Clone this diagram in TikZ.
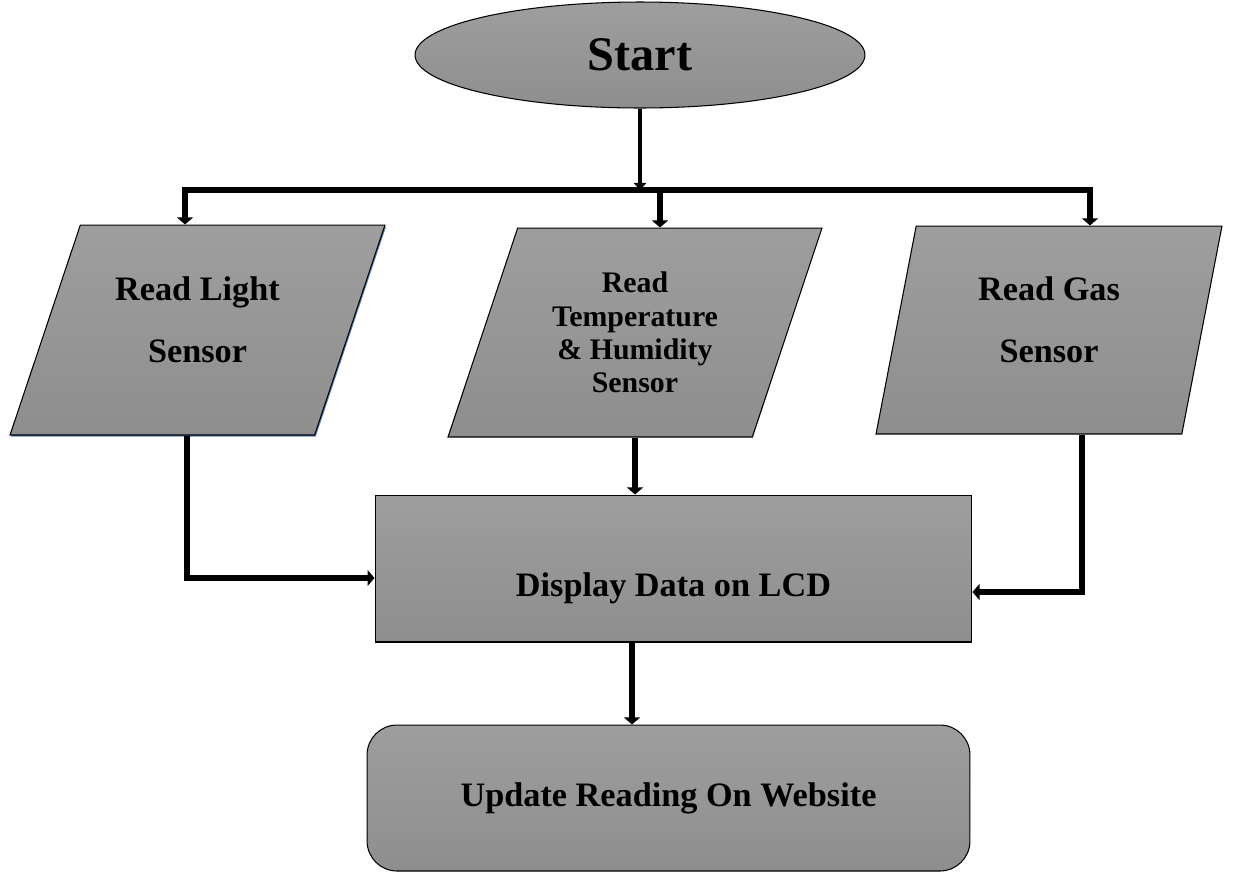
\documentclass[tikz,border=0pt]{standalone}
\usepackage{fontspec}
\setmainfont{Liberation Serif}
\usetikzlibrary{positioning}
\usetikzlibrary{shapes.geometric,shadows,arrows.meta}

\definecolor{boxtop}{RGB}{158,158,158}
\definecolor{boxbot}{RGB}{142,142,142}
\definecolor{shadeblue}{RGB}{90,130,190}

\tikzset{
  box/.style={draw=black, line width=0.6pt, top color=boxtop, bottom color=boxbot,
    font=\bfseries\fontsize{19.5}{35}\selectfont, align=center, inner sep=2pt},
  io/.style={box, trapezium, trapezium stretches body=true},
  flow/.style={line width=3.4pt, -{Triangle[length=4pt,width=9pt]}},
  thin flow/.style={line width=1.8pt, -{Triangle[length=4pt,width=7pt]}},
  bus/.style={line width=3.4pt, line cap=rect}
}

\begin{document}
\begin{tikzpicture}[x=0.02cm, y=-0.02cm]
\useasboundingbox (0,0) rectangle (1240,873);

% start
\node[box, ellipse, minimum width=9cm, minimum height=2.12cm,
      font=\bfseries\fontsize{27.5}{33}\selectfont] (start) at (640,55) {Start};

% sensors
\node[io, trapezium left angle=58.2, trapezium right angle=121.8,
      minimum width=7.5cm, minimum height=4.2cm, text depth=12pt,
      drop shadow={shadow xshift=0.6pt, shadow yshift=-1pt, fill=shadeblue, opacity=1}]
      (light) at (197.5,330) {Read Light\\Sensor};
\node[io, trapezium left angle=61.5, trapezium right angle=118.5,
      minimum width=7.48cm, minimum height=4.18cm,
      font=\bfseries\fontsize{17}{19}\selectfont]
      (temp) at (635,332.5) {Read\\Temperature\\\& Humidity\\Sensor};
\node[io, trapezium left angle=70.5, trapezium right angle=109.5,
      minimum width=6.92cm, minimum height=4.16cm, text depth=12pt]
      (gas) at (1049,330) {Read Gas\\Sensor};

% outputs
\node[box, rectangle, minimum width=11.94cm, minimum height=2.94cm,
      text height=32pt, text depth=0pt] (lcd) at (673.5,568.5) {Display Data on LCD};
\node[box, rectangle, rounded corners=0.6cm, minimum width=12.06cm, minimum height=2.92cm]
      (web) at (668.5,798) {Update Reading On Website};

% branches
\coordinate (barL) at (185,190);
\coordinate (barM) at (660,190);
\coordinate (barR) at (1090,190);
\draw[thin flow] (start.south) -- (start.south |- barM);
\draw[bus] (barL) -- (barR);
\draw[flow] (barL) -- (barL |- light.north);
\draw[flow] (barM) -- (barM |- temp.north);
\draw[flow] (barR) -- (barR |- gas.north);

% merge
\draw[flow] ([xshift=-0.22cm]light.south) |- ([yshift=-0.19cm]lcd.west);
\draw[flow] (temp.south) -- (temp.south |- lcd.north);
\draw[flow] ([xshift=0.66cm]gas.south) |- ([yshift=-0.47cm]lcd.east);
\draw[flow] ([xshift=-0.83cm]lcd.south) -- ([xshift=-0.83cm]lcd.south |- web.north);
\end{tikzpicture}
\end{document}
